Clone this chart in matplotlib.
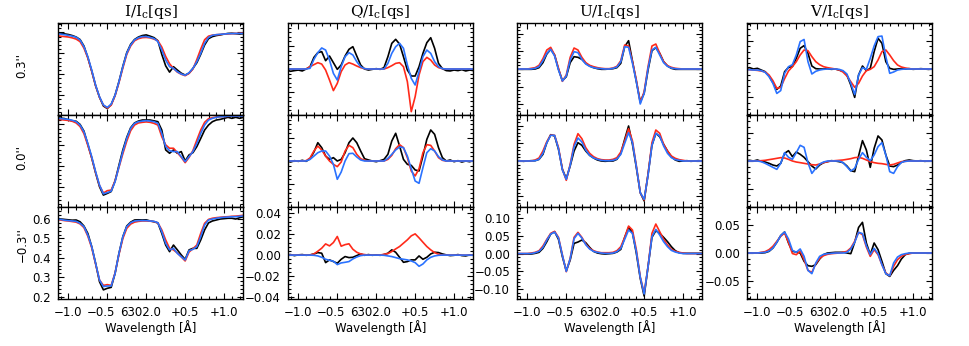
import matplotlib
matplotlib.use('Agg')
import matplotlib.pyplot as plt
import matplotlib.transforms as mtransforms
from matplotlib.ticker import FixedLocator, FixedFormatter, AutoMinorLocator, NullFormatter

plt.rcParams['font.family'] = ['DejaVu Sans']
plt.rcParams['mathtext.fontset'] = 'dejavuserif'

# ---------------- data ----------------
wavelength = [-1.15, -1.10, -1.05, -1.00, -0.95, -0.90, -0.85, -0.80, -0.75, -0.70,
              -0.65, -0.60, -0.55, -0.50, -0.45, -0.40, -0.35, -0.30, -0.25, -0.20,
              -0.15, -0.10, -0.05, 0.00, 0.05, 0.10, 0.15, 0.20, 0.25, 0.30,
              0.35, 0.40, 0.45, 0.50, 0.55, 0.60, 0.65, 0.70, 0.75, 0.80,
              0.85, 0.90, 0.95, 1.00, 1.05, 1.10, 1.15, 1.20, 1.25]

row_labels = ["0.3''", "0.0''", "\u22120.3''"]
col_titles = [r'I/I$_\mathrm{c}$[qs]', r'Q/I$_\mathrm{c}$[qs]', r'U/I$_\mathrm{c}$[qs]', r'V/I$_\mathrm{c}$[qs]']
x_tick_values = [-1.0, -0.5, 0.0, 0.5, 1.0]
x_tick_labels = ['\u22121.0', '\u22120.5', '6302.0', '+0.5', '+1.0']

# I/Ic
i_03_black = [0.598,0.596,0.593,0.590,0.585,0.578,0.566,0.535,0.480,0.415,0.345,0.290,0.248,0.236,0.255,0.300,0.365,0.438,0.503,0.543,0.566,0.578,0.585,0.588,0.582,0.575,0.560,0.495,0.440,0.410,0.436,0.420,0.405,0.396,0.405,0.428,0.455,0.495,0.540,0.570,0.580,0.585,0.588,0.592,0.595,0.596,0.594,0.592,0.594]
i_03_red = [0.584,0.582,0.580,0.578,0.574,0.568,0.556,0.525,0.478,0.415,0.345,0.290,0.252,0.238,0.252,0.297,0.360,0.430,0.495,0.535,0.560,0.570,0.575,0.576,0.574,0.568,0.560,0.530,0.485,0.450,0.428,0.410,0.400,0.393,0.404,0.425,0.470,0.520,0.565,0.582,0.587,0.589,0.590,0.592,0.593,0.594,0.595,0.596,0.597]
i_03_blue = [0.595,0.592,0.589,0.586,0.582,0.577,0.564,0.532,0.484,0.420,0.348,0.292,0.253,0.241,0.257,0.300,0.364,0.436,0.500,0.540,0.564,0.575,0.580,0.580,0.576,0.571,0.556,0.516,0.468,0.436,0.428,0.412,0.401,0.395,0.407,0.428,0.460,0.500,0.548,0.576,0.586,0.589,0.591,0.592,0.594,0.594,0.595,0.595,0.595]

i_00_black = [0.632,0.630,0.628,0.622,0.617,0.615,0.600,0.568,0.505,0.440,0.368,0.302,0.262,0.270,0.279,0.330,0.405,0.478,0.538,0.584,0.607,0.616,0.621,0.621,0.621,0.617,0.613,0.573,0.478,0.462,0.478,0.462,0.470,0.425,0.454,0.465,0.494,0.533,0.573,0.597,0.613,0.621,0.624,0.629,0.634,0.629,0.634,0.629,0.634]
i_00_red = [0.624,0.623,0.621,0.619,0.615,0.607,0.590,0.556,0.500,0.440,0.370,0.308,0.272,0.283,0.286,0.330,0.395,0.460,0.520,0.570,0.597,0.607,0.610,0.612,0.610,0.605,0.597,0.541,0.502,0.486,0.486,0.465,0.443,0.417,0.442,0.475,0.525,0.573,0.610,0.627,0.632,0.635,0.637,0.638,0.639,0.640,0.640,0.640,0.640]
i_00_blue = [0.629,0.628,0.626,0.624,0.620,0.613,0.597,0.565,0.509,0.446,0.374,0.310,0.268,0.274,0.281,0.326,0.398,0.470,0.533,0.581,0.605,0.613,0.616,0.618,0.616,0.613,0.605,0.557,0.494,0.474,0.470,0.470,0.446,0.422,0.446,0.470,0.509,0.557,0.597,0.621,0.629,0.634,0.637,0.637,0.640,0.640,0.640,0.640,0.640]

i_m03_black = [0.604,0.600,0.598,0.596,0.594,0.595,0.586,0.564,0.526,0.458,0.372,0.277,0.235,0.243,0.248,0.320,0.423,0.509,0.564,0.584,0.595,0.596,0.595,0.596,0.590,0.586,0.580,0.526,0.466,0.432,0.466,0.441,0.415,0.392,0.441,0.449,0.449,0.492,0.544,0.580,0.590,0.595,0.600,0.602,0.604,0.604,0.600,0.607,0.612]
i_m03_red = [0.598,0.595,0.592,0.590,0.587,0.584,0.575,0.556,0.512,0.452,0.368,0.286,0.258,0.262,0.258,0.322,0.418,0.500,0.552,0.574,0.584,0.588,0.590,0.590,0.589,0.587,0.580,0.544,0.492,0.449,0.441,0.425,0.405,0.384,0.430,0.447,0.466,0.526,0.578,0.598,0.604,0.607,0.609,0.611,0.612,0.614,0.615,0.617,0.619]
i_m03_blue = [0.600,0.598,0.594,0.592,0.590,0.588,0.578,0.561,0.518,0.458,0.372,0.286,0.252,0.255,0.255,0.320,0.423,0.509,0.561,0.581,0.590,0.592,0.592,0.592,0.590,0.588,0.581,0.535,0.475,0.441,0.449,0.423,0.406,0.389,0.437,0.444,0.458,0.509,0.569,0.595,0.600,0.604,0.607,0.609,0.610,0.612,0.612,0.614,0.616]

# Q/Ic
q_03_black = [-0.0009,-0.0020,-0.0014,-0.0009,-0.0017,0,0.0020,0.0101,0.0142,0.0151,0.0072,0.0113,0.0055,-0.0003,0.0035,0.0113,0.0171,0.0194,0.0113,0.0035,0,-0.0009,-0.0003,0.0003,-0.0003,0.0012,0.0107,0.0223,0.0258,0.0217,0.0107,-0.0009,-0.0061,-0.0061,0.0020,0.0136,0.0229,0.0272,0.0180,0.0049,0.0003,-0.0014,-0.0017,-0.0009,-0.0014,-0.0006,-0.0017,-0.0009,-0.0014]
q_03_red = [0,0,0,0,0,0,0.0020,0.0038,0.0055,0.0043,-0.0009,-0.0096,-0.0188,-0.0125,-0.0023,0.0035,0.0055,0.0043,0.0026,0.0012,0.0003,0,0,0,0,0,0.0012,0.0029,0.0049,0.0055,0.0020,-0.0110,-0.0371,-0.0241,-0.0052,0.0064,0.0101,0.0078,0.0035,0.0012,0.0003,0,0,0,0,0,0,0,0]
q_03_blue = [0,0,0,0,0,0,0.0006,0.0084,0.0142,0.0183,0.0165,0.0078,-0.0038,-0.0096,0.0020,0.0107,0.0142,0.0122,0.0064,0.0020,0.0003,0,0,0,0,0,0.0049,0.0136,0.0194,0.0223,0.0180,0.0035,-0.0081,-0.0139,-0.0023,0.0107,0.0165,0.0136,0.0064,0.0020,0.0003,0,0,0,0,0,0,0,0]

q_00_black = [0,-0.0009,0.0003,-0.0003,0.0006,-0.0003,0.0020,0.0078,0.0159,0.0116,0.0043,0.0014,0.0029,0,0.0014,0.0072,0.0159,0.0200,0.0159,0.0087,0.0020,0.0009,0,-0.0006,0.0003,0.0014,0.0058,0.0174,0.0241,0.0130,0.0014,-0.0029,-0.0038,-0.0078,-0.0087,0.0043,0.0188,0.0270,0.0232,0.0116,0.0029,0,0.0009,-0.0006,0.0003,-0.0009,0,-0.0006,0.0003]
q_00_red = [0,0,0,0,0,0.0003,0.0026,0.0087,0.0130,0.0096,0.0043,0,-0.0029,-0.0049,-0.0009,0.0087,0.0136,0.0116,0.0058,0.0020,0.0006,0,0,0,0,0,0.0014,0.0049,0.0107,0.0142,0.0116,0.0029,-0.0087,-0.0130,-0.0067,0.0072,0.0142,0.0136,0.0087,0.0029,0.0006,0,0,0,0,0,0,0,0]
q_00_blue = [0,0,0,0,0,0,0.0014,0.0043,0.0072,0.0087,0.0087,0.0043,-0.0029,-0.0159,-0.0096,0,0.0064,0.0067,0.0035,0.0009,0,0,0,0,0,0,0.0023,0.0058,0.0096,0.0122,0.0116,0.0043,-0.0067,-0.0174,-0.0194,-0.0058,0.0072,0.0107,0.0087,0.0038,0.0009,0,0,0,0,0,0,0,0]

q_m03_black = [0.0002,0.0005,-0.0005,0.0002,0.0005,-0.0002,0.0002,0.0011,0.0024,0.0018,-0.0072,-0.0046,-0.0062,-0.0078,-0.0040,-0.0014,-0.0024,-0.0021,-0.0005,0.0011,-0.0002,0.0005,-0.0002,0.0002,-0.0002,0.0005,0.0018,0.0050,0.0027,-0.0021,-0.0069,-0.0062,-0.0046,-0.0046,-0.0008,-0.0040,-0.0021,0.0011,0.0027,0.0024,0.0011,0.0002,-0.0005,-0.0002,0.0005,-0.0005,-0.0008,0.0002,-0.0002]
q_m03_red = [0,0,0,0,0,0,0,0.0011,0.0037,0.0066,0.0107,0.0088,0.0120,0.0178,0.0085,0.0100,0.0108,0.0056,0.0027,0.0011,0.0005,0,0,0,0,0.0008,0.0014,0.0034,0.0059,0.0082,0.0114,0.0146,0.0184,0.0203,0.0165,0.0123,0.0082,0.0050,0.0024,0.0008,0,0,0,0,0,0,0,0,0]
q_m03_blue = [0,0,0,0,0,0,0,-0.0002,-0.0008,-0.0021,-0.0040,-0.0050,-0.0059,-0.0091,-0.0075,-0.0069,-0.0062,-0.0037,-0.0018,-0.0005,0,0,0,0,0,-0.0002,-0.0008,-0.0014,-0.0024,-0.0034,-0.0040,-0.0046,-0.0056,-0.0072,-0.0107,-0.0085,-0.0046,-0.0021,-0.0008,-0.0002,0,0,0,0,0,0,0,0,0]

# U/Ic
u_03_black = [-0.0009,-0.0009,-0.0009,-0.0009,-0.0009,0,0.0038,0.0179,0.0424,0.0556,0.0395,-0.0009,-0.0330,-0.0217,0.0179,0.0348,0.0330,0.0273,0.0160,0.0085,0.0038,0.0009,-0.0009,-0.0009,0,0.0009,0.0038,0.0160,0.0631,0.0800,0.0220,-0.0358,-0.0923,-0.0687,-0.0028,0.0518,0.0603,0.0443,0.0207,0.0085,0.0019,-0.0009,-0.0009,-0.0009,-0.0009,-0.0009,-0.0009,-0.0009,-0.0009]
u_03_red = [0,0,0,0,0.0019,0.0038,0.0104,0.0292,0.0537,0.0612,0.0395,0.0019,-0.0348,-0.0169,0.0330,0.0593,0.0537,0.0330,0.0179,0.0104,0.0066,0.0038,0.0019,0.0009,0.0009,0.0028,0.0075,0.0235,0.0678,0.0650,0.0207,-0.0311,-0.0951,-0.0640,0.0066,0.0650,0.0706,0.0443,0.0207,0.0094,0.0047,0.0019,0.0009,0,0,0,0,0,0]
u_03_blue = [0,0,0,0,0,0.0019,0.0066,0.0235,0.0443,0.0556,0.0367,-0.0028,-0.0339,-0.0198,0.0254,0.0490,0.0461,0.0273,0.0141,0.0075,0.0038,0.0019,0.0009,0,0,0.0019,0.0056,0.0207,0.0631,0.0612,0.0160,-0.0358,-0.0989,-0.0687,0.0019,0.0537,0.0612,0.0395,0.0179,0.0075,0.0028,0.0009,0,0,0,0,0,0,0]

u_00_black = [0,0.0009,-0.0009,0,0.0009,0.0009,0.0047,0.0188,0.0518,0.0744,0.0706,0.0330,-0.0235,-0.0499,-0.0141,0.0282,0.0518,0.0443,0.0282,0.0160,0.0085,0.0028,0,-0.0009,0,0,0.0047,0.0217,0.0612,0.0989,0.0471,-0.0188,-0.0895,-0.1130,-0.0377,0.0443,0.0782,0.0687,0.0471,0.0282,0.0122,0.0028,-0.0009,0,0.0009,-0.0009,0,0.0009,0]
u_00_red = [0,0,0,0,0,0.0028,0.0085,0.0282,0.0546,0.0734,0.0725,0.0377,-0.0235,-0.0546,-0.0094,0.0471,0.0772,0.0631,0.0377,0.0217,0.0122,0.0066,0.0038,0.0028,0.0028,0.0047,0.0094,0.0254,0.0565,0.0913,0.0565,-0.0141,-0.0895,-0.1102,-0.0377,0.0518,0.0876,0.0782,0.0471,0.0282,0.0141,0.0075,0.0038,0.0019,0,0,0,0,0]
u_00_blue = [0,0,0,0,0,0.0009,0.0047,0.0217,0.0518,0.0725,0.0725,0.0348,-0.0254,-0.0518,-0.0122,0.0405,0.0650,0.0537,0.0311,0.0160,0.0085,0.0047,0.0019,0.0009,0.0009,0.0019,0.0056,0.0188,0.0499,0.0800,0.0518,-0.0160,-0.0895,-0.1083,-0.0405,0.0443,0.0782,0.0706,0.0424,0.0217,0.0094,0.0038,0.0019,0,0,0,0,0,0]

u_m03_black = [-0.0014,-0.0014,-0.0014,-0.0014,-0.0014,0.0005,0.0033,0.0144,0.0331,0.0545,0.0610,0.0396,-0.0088,-0.0480,-0.0182,0.0284,0.0321,0.0377,0.0303,0.0172,0.0061,0.0014,-0.0005,-0.0014,-0.0005,0.0005,0.0042,0.0116,0.0452,0.0731,0.0582,0.0005,-0.0694,-0.1187,-0.0368,0.0452,0.0638,0.0563,0.0452,0.0331,0.0191,0.0079,0.0023,0.0005,0.0005,0.0005,0.0005,0.0005,0.0005]
u_m03_red = [0,0,0,0,0.0014,0.0033,0.0079,0.0209,0.0396,0.0563,0.0619,0.0452,-0.0042,-0.0507,-0.0135,0.0452,0.0591,0.0452,0.0265,0.0144,0.0079,0.0042,0.0023,0.0023,0.0023,0.0033,0.0079,0.0191,0.0452,0.0768,0.0656,0.0098,-0.0650,-0.1110,-0.0370,0.0563,0.0824,0.0610,0.0396,0.0237,0.0116,0.0061,0.0033,0.0014,0,0,0,0,0]
u_m03_blue = [0,0,0,0,0,0.0023,0.0061,0.0172,0.0377,0.0545,0.0601,0.0433,-0.0051,-0.0498,-0.0144,0.0414,0.0563,0.0433,0.0247,0.0126,0.0061,0.0033,0.0014,0.0005,0.0005,0.0014,0.0051,0.0144,0.0396,0.0656,0.0563,0.0051,-0.0666,-0.1131,-0.0368,0.0470,0.0675,0.0517,0.0331,0.0191,0.0088,0.0042,0.0014,0,0,0,0,0,0]

# V/Ic
v_03_black = [0.0012,0.0024,0,0.0012,-0.0018,-0.0047,-0.0123,-0.0241,-0.0359,-0.0300,-0.0047,0.0029,0.0041,0.0188,0.0365,0.0412,0.0276,0.0053,0.0006,0,0,0.0006,-0.0006,0,-0.0018,-0.0041,-0.0106,-0.0282,-0.0500,-0.0106,0.0053,-0.0029,0.0012,0.0306,0.0541,0.0453,0.0129,0.0012,-0.0006,0,0.0006,0,0.0006,-0.0006,0,0.0006,0,-0.0006,0]
v_03_red = [-0.0006,-0.0012,-0.0018,-0.0024,-0.0035,-0.0053,-0.0106,-0.0206,-0.0341,-0.0323,-0.0170,-0.0035,0.0041,0.0129,0.0247,0.0335,0.0323,0.0218,0.0129,0.0076,0.0041,0.0024,0.0012,0,-0.0018,-0.0053,-0.0123,-0.0223,-0.0323,-0.0253,-0.0123,-0.0029,-0.0006,0.0041,0.0159,0.0306,0.0335,0.0247,0.0147,0.0071,0.0035,0.0018,0.0006,0,0,0,0,0,0]
v_03_blue = [-0.0012,-0.0012,-0.0018,-0.0018,-0.0029,-0.0059,-0.0135,-0.0253,-0.0430,-0.0380,-0.0076,0.0041,0.0076,0.0247,0.0482,0.0520,0.0129,-0.0088,-0.0041,-0.0018,-0.0006,0,0,0,-0.0006,-0.0029,-0.0088,-0.0253,-0.0450,-0.0106,0.0024,-0.0006,0.0188,0.0406,0.0570,0.0580,0.0218,-0.0076,-0.0053,-0.0018,-0.0006,0,0,0,0,0,0,0,0]

v_00_black = [0.0006,0.0012,0,0.0018,-0.0006,-0.0018,-0.0041,-0.0071,-0.0088,-0.0041,0.0135,0.0182,0.0076,0.0159,0.0118,0.0065,-0.0012,-0.0088,-0.0141,-0.0071,-0.0029,-0.0012,0.0006,0,-0.0012,-0.0029,-0.0088,-0.0170,-0.0188,0.0088,0.0359,0.0194,-0.0112,0.0223,0.0441,0.0370,0.0106,-0.0088,-0.0100,-0.0071,-0.0024,0.0006,0.0018,0.0006,0,0.0006,-0.0006,0,0.0006]
v_00_red = [0,0,0,0,0.0006,0.0012,0.0024,0.0035,0.0047,0.0059,0.0053,0.0029,0,-0.0018,-0.0029,-0.0041,-0.0053,-0.0065,-0.0071,-0.0053,-0.0029,-0.0012,0,0.0006,0.0012,0.0018,0.0029,0.0041,0.0059,0.0065,0.0047,0.0018,-0.0012,-0.0029,-0.0041,-0.0047,-0.0059,-0.0071,-0.0059,-0.0035,-0.0012,-0.0006,0,0,0,0,0,0,0]
v_00_blue = [0,0,0,0,-0.0012,-0.0041,-0.0076,-0.0112,-0.0147,-0.0041,0.0147,0.0065,0.0030,0.0147,0.0276,0.0241,-0.0029,-0.0218,-0.0129,-0.0053,-0.0018,0,0,0,0,-0.0029,-0.0100,-0.0176,-0.0129,0.0029,0.0147,0.0065,0.0006,0.0106,0.0253,0.0323,0.0106,-0.0188,-0.0218,-0.0100,-0.0024,-0.0006,0,0,0,0,0,0,0]

v_m03_black = [0,0,0,0,0,0.0006,0.0029,0.0088,0.0188,0.0306,0.0370,0.0176,0.0029,0.0018,0,-0.0147,-0.0223,-0.0235,-0.0206,-0.0106,-0.0029,0,0.0006,0.0012,0.0012,0.0012,0,-0.0012,0.0188,0.0450,0.0540,0.0176,-0.0029,0.0176,0.0059,-0.0147,-0.0364,-0.0412,-0.0306,-0.0223,-0.0106,-0.0029,-0.0006,0,0,0,0,0,0]
v_m03_red = [0,0,0,0,0.0012,0.0024,0.0059,0.0118,0.0206,0.0294,0.0353,0.0188,-0.0010,-0.0030,0.0035,-0.0118,-0.0306,-0.0341,-0.0188,-0.0094,-0.0047,-0.0024,-0.0012,-0.0006,0,0.0012,0.0029,0.0088,0.0206,0.0364,0.0323,0.0106,-0.0059,0.0059,-0.0029,-0.0206,-0.0353,-0.0400,-0.0235,-0.0118,-0.0059,-0.0024,-0.0012,0,0,0,0,0,0]
v_m03_blue = [0,0,0,0,0.0006,0.0012,0.0035,0.0088,0.0188,0.0306,0.0370,0.0247,0.0047,0.0012,0.0071,-0.0059,-0.0306,-0.0364,-0.0176,-0.0059,-0.0024,-0.0012,-0.0006,0,0,0,0.0012,0.0071,0.0188,0.0364,0.0341,0.0129,-0.0029,0.0082,-0.0012,-0.0206,-0.0364,-0.0400,-0.0176,-0.0071,-0.0029,-0.0012,0,0,0,0,0,0,0]

# axis ranges and tick values per column
y_ranges = [
    [(0.205, 0.645), (0.205, 0.645), (0.188, 0.662)],
    [(-0.040, 0.040), (-0.040, 0.040), (-0.042, 0.046)],
    [(-0.130, 0.130), (-0.130, 0.130), (-0.127, 0.130)],
    [(-0.081, 0.081), (-0.081, 0.081), (-0.081, 0.081)],
]
y_tick_values = [
    [0.2, 0.3, 0.4, 0.5, 0.6],
    [-0.04, -0.02, 0.0, 0.02, 0.04],
    [-0.10, -0.05, 0.0, 0.05, 0.10],
    [-0.05, 0.0, 0.05],
]
y_tick_labels = [
    ['0.2', '0.3', '0.4', '0.5', '0.6'],
    ['\u22120.04', '\u22120.02', '0.00', '0.02', '0.04'],
    ['\u22120.10', '\u22120.05', '0.00', '0.05', '0.10'],
    ['\u22120.05', '0.00', '0.05'],
]

profiles = [
    [(i_03_black, i_03_red, i_03_blue), (i_00_black, i_00_red, i_00_blue), (i_m03_black, i_m03_red, i_m03_blue)],
    [(q_03_black, q_03_red, q_03_blue), (q_00_black, q_00_red, q_00_blue), (q_m03_black, q_m03_red, q_m03_blue)],
    [(u_03_black, u_03_red, u_03_blue), (u_00_black, u_00_red, u_00_blue), (u_m03_black, u_m03_red, u_m03_blue)],
    [(v_03_black, v_03_red, v_03_blue), (v_00_black, v_00_red, v_00_blue), (v_m03_black, v_m03_red, v_m03_blue)],
]

# ---------------- layout ----------------
W, H = 969, 346
fig = plt.figure(figsize=(W / 100, H / 100), dpi=100)
col_left = [58, 288, 517, 747]
row_top = [23, 115, 207]
aw, ah = 185, 92
xlim = (-1.133, 1.243)
colors = ['black', '#ff2a1a', '#2a72ff']
label_shift_px = [0, -6, -6, 0, 0]

for c in range(4):
    for r in range(3):
        ax = fig.add_axes([col_left[c] / W, 1 - (row_top[r] + ah) / H, aw / W, ah / H])
        for series, col in zip(profiles[c][r], colors):
            ax.plot(wavelength, series, color=col, lw=1.2)
        ax.set_xlim(*xlim)
        ax.set_ylim(*y_ranges[c][r])
        ax.xaxis.set_major_locator(FixedLocator(x_tick_values))
        ax.xaxis.set_minor_locator(AutoMinorLocator(5))
        ax.yaxis.set_major_locator(FixedLocator(y_tick_values[c]))
        ax.yaxis.set_minor_locator(AutoMinorLocator(5))
        ax.tick_params(which='both', direction='in', top=True, right=True, width=0.8)
        ax.tick_params(which='major', length=4.5)
        ax.tick_params(which='minor', length=2.2)
        for sp in ax.spines.values():
            sp.set_linewidth(1.0)
        if r == 2:
            ax.xaxis.set_major_formatter(FixedFormatter(x_tick_labels))
            ax.yaxis.set_major_formatter(FixedFormatter(y_tick_labels[c]))
            ax.tick_params(axis='both', which='major', labelsize=8.5, pad=5)
            for tk, dx in zip(ax.xaxis.get_major_ticks(), label_shift_px):
                if dx:
                    tk.label1.set_transform(tk.label1.get_transform() +
                                            mtransforms.ScaledTranslation(dx / 100, 0, fig.dpi_scale_trans))
        else:
            ax.xaxis.set_major_formatter(NullFormatter())
            ax.yaxis.set_major_formatter(NullFormatter())
    cx = (col_left[c] + aw / 2) / W
    fig.text(cx, 1 - 12 / H, col_titles[c], ha='center', va='center', fontsize=11,
             family=['DejaVu Serif'])
    fig.text(cx, 1 - 328 / H, 'Wavelength [\u00c5]', ha='center', va='center', fontsize=8.5)

for r in range(3):
    yc = row_top[r] + ah / 2 + 9
    fig.text(22 / W, 1 - yc / H, row_labels[r], rotation=90, ha='center', va='bottom', fontsize=8.5)

fig.savefig('out.png', dpi=100)
